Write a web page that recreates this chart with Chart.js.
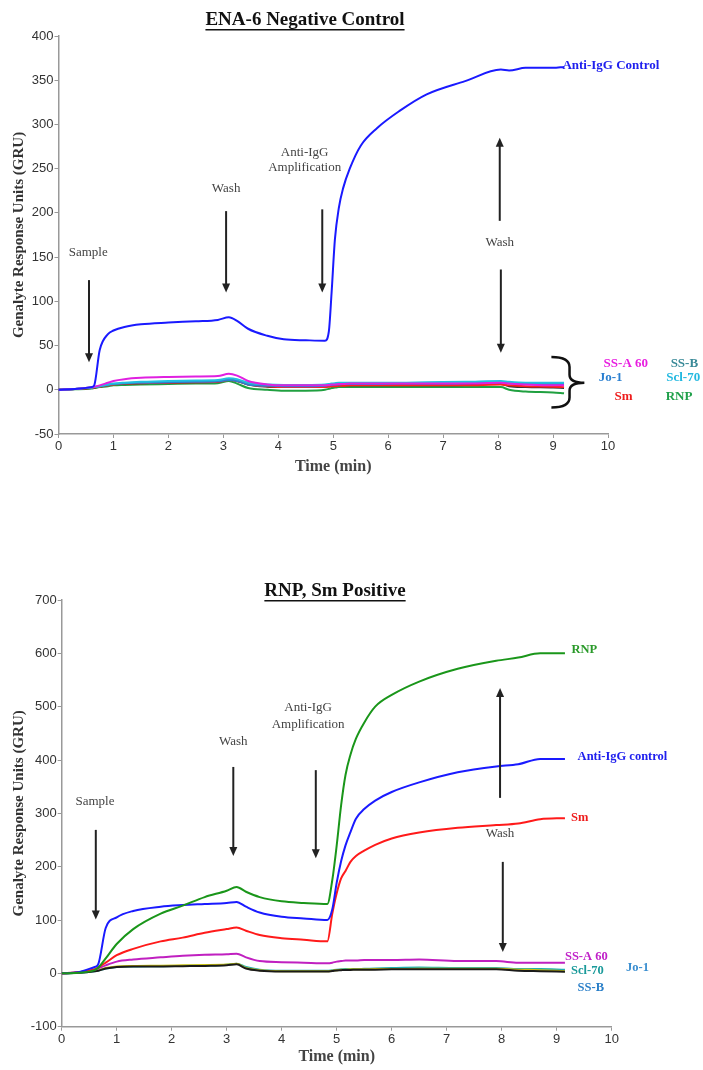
<!DOCTYPE html>
<html>
<head>
<meta charset="utf-8">
<script src="https://cdn.jsdelivr.net/npm/chart.js@4"></script>
<style>
  html, body { margin: 0; padding: 0; background: #fff; }
  body { width: 703px; height: 1070px; position: relative; overflow: hidden; }
  canvas { position: absolute; left: 0; }
  #c1 { top: 0; }
  #c2 { top: 560px; }
</style>
</head>
<body>
<canvas id="c1" width="703" height="480"></canvas>
<canvas id="c2" width="703" height="510"></canvas>
<script>
// ---- ENA-6 Negative Control (time in min, response in GRU) ----
const times1 = [0, 0.3, 0.6, 0.65, 0.75, 0.9, 1.0, 1.2, 1.5, 2.0, 2.5, 2.9, 3.1, 3.25, 3.45, 3.8, 4.1, 4.5, 4.85, 4.92, 4.97, 5.03, 5.1, 5.18, 5.3, 5.5, 5.8, 6.2, 6.7, 7.4, 8.05, 8.2, 8.5, 9.0, 9.2];
const antiIgG1 = [0, 1, 3, 5, 45, 63, 67, 71, 74, 76, 77.5, 79, 82, 78, 69, 61, 57, 56, 55.5, 66, 110, 170, 205, 228, 250, 276, 296, 315, 334, 349, 362, 361, 364, 364, 365];
const ssa1 = [0, 1, 3, 3.5, 5, 8, 10, 12, 13.5, 14.5, 15, 15.5, 18, 16, 10, 6, 5, 5, 5, 5.5, 6, 6, 6.5, 6.5, 7, 7, 7, 7, 7, 7, 8, 7, 6, 5, 5];
const scl1 = [0, 1, 2.5, 3, 4, 6, 7, 8, 9, 10, 10.5, 11, 13, 12, 8, 6, 5.5, 5.5, 6, 6.5, 7, 7.5, 8, 8, 8, 8, 8, 8, 8.5, 9, 10, 9, 8, 8, 8];
const jo1_1 = [0, 1, 2.5, 3, 4, 5.5, 6.5, 7.5, 8, 8.5, 9, 9.5, 11, 10, 6, 4.5, 4, 4, 4.5, 5, 5.5, 6, 6, 6.5, 6.5, 6.5, 6.5, 7, 7, 7.5, 8.5, 7.5, 7, 6.5, 6.5];
const sm1 = [0, 1, 2, 2.5, 3.5, 5, 6, 7, 7.5, 8, 8.5, 9, 11, 10, 6, 4, 3, 3, 3, 3.5, 4, 4, 4.5, 4.5, 5, 5, 5, 5, 5, 5, 6, 5, 4, 3.5, 3];
const rnp1 = [0, 0.5, 1.5, 2, 3, 4, 5, 5.5, 6, 6.5, 7, 7.5, 10, 7, 2, 0, -1, -1, 0, 1, 2, 2.5, 3, 3, 3, 3, 3, 3, 3, 3, 3, 0, -2, -3, -4];
const ssb1 = [0, 1, 2, 2.5, 3.5, 5.5, 6.5, 7, 7.5, 8, 8.5, 9, 11.5, 10, 6, 3.5, 3, 3, 3.5, 4, 4.5, 5, 5, 5, 5, 5, 5, 5, 5, 5.5, 6.5, 4, 3, 2.5, 2];

// ---- RNP, Sm Positive ----
const times2 = [0, 0.3, 0.6, 0.66, 0.8, 1.0, 1.3, 1.8, 2.2, 2.6, 3.0, 3.18, 3.35, 3.6, 4.0, 4.4, 4.83, 4.92, 5.0, 5.08, 5.16, 5.25, 5.35, 5.5, 5.7, 6.0, 6.5, 7.2, 7.9, 8.3, 8.7, 9.15];
const rnp2 = [0, 1, 6, 10, 28, 55, 83, 112, 127, 143, 155, 162, 153, 143, 135, 132, 130, 175, 240, 315, 372, 410, 440, 470, 500, 522, 547, 571, 586, 592, 600, 600];
const antiIgG2 = [0, 2, 12, 16, 85, 105, 117, 125, 128, 130, 132, 134, 125, 114, 106, 103, 100, 120, 170, 210, 240, 265, 290, 308, 324, 340, 358, 377, 388, 392, 402, 402];
const sm2 = [0, 2, 8, 11, 20, 34, 46, 60, 67, 76, 83, 86, 80, 72, 66, 63, 60, 112, 150, 178, 192, 209, 220, 230, 241, 253, 264, 273, 278, 281, 289, 291];
const ssa2 = [0, 2, 7, 9, 15, 22, 26, 30, 33, 35, 36, 37, 30, 23, 21, 20, 19, 20, 22, 23, 24, 24, 24, 25, 25, 25, 26, 23, 23, 20, 20, 20];
const scl2 = [0, 1, 4, 5, 9, 12, 13, 13.5, 14, 14.5, 16, 18, 12, 7, 5, 5, 5, 6, 7, 7.5, 8, 8, 8, 8.5, 9, 10, 11, 10, 10, 8, 8, 7];
const jo1_2 = [0, 1.5, 5, 6, 10, 13, 14, 14.5, 15, 15.5, 16.5, 18, 10, 6, 4, 4, 4, 5, 6, 7, 7, 7.5, 7.5, 7.5, 8, 8, 8.5, 8.5, 8.5, 7, 6, 4];
const ssb2 = [0, 1, 4, 5, 9, 12, 13, 13, 13.5, 14, 15, 17, 9, 5, 3.5, 3.5, 3.5, 4.5, 5.5, 6, 6.5, 6.5, 7, 7, 7, 7.5, 7.5, 7.5, 7.5, 5, 4, 3];

const xTicks = [0, 1, 2, 3, 4, 5, 6, 7, 8, 9, 10];

const series1 = [
  { name: "Anti-IgG Control", values: antiIgG1, color: "#1a1aff" },
  { name: "SS-A 60", values: ssa1, color: "#e020e0" },
  { name: "Scl-70", values: scl1, color: "#20c0e0" },
  { name: "Jo-1", values: jo1_1, color: "#2a7fd0" },
  { name: "Sm", values: sm1, color: "#ff2020" },
  { name: "SS-B", values: ssb1, color: "#333333" },
  { name: "RNP", values: rnp1, color: "#20a040" },
];

const series2 = [
  { name: "RNP", values: rnp2, color: "#1a961a" },
  { name: "Anti-IgG control", values: antiIgG2, color: "#1a1aff" },
  { name: "Sm", values: sm2, color: "#ff1a1a" },
  { name: "SS-A 60", values: ssa2, color: "#c020c0" },
  { name: "SS-B", values: ssb2, color: "#1a1a1a" },
  { name: "Jo-1", values: jo1_2, color: "#c8c010" },
  { name: "Scl-70", values: scl2, color: "#20b0b0" },
];

// annotations, placed in data units (min, GRU)
const notes1 = {
  title: "ENA-6 Negative Control", titleX: 305, titleY: 20, labelSize: 13,
  texts: [
    { t: "Sample", x: 0.54, y: 155 },
    { t: "Wash", x: 3.05, y: 228 },
    { t: "Anti-IgG", x: 4.48, y: 268 },
    { t: "Amplification", x: 4.48, y: 251.5 },
    { t: "Wash", x: 8.03, y: 166 },
  ],
  arrows: [
    { x: 0.555, from: 124, to: 31 },
    { x: 3.05, from: 202, to: 110 },
    { x: 4.8, from: 204, to: 110 },
    { x: 8.03, from: 191, to: 285 },
    { x: 8.05, from: 136, to: 42 },
  ],
  labels: [
    { t: "Anti-IgG Control", x: 9.17, y: 366, c: "#2020ee" },
    { t: "SS-A 60", x: 9.92, y: 29, c: "#e81ee0" },
    { t: "SS-B", x: 11.14, y: 29, c: "#3a8a98" },
    { t: "Jo-1", x: 9.83, y: 13.5, c: "#2a7fd0" },
    { t: "Scl-70", x: 11.06, y: 13.5, c: "#22b8e0" },
    { t: "Sm", x: 10.12, y: -8, c: "#ee1c1c" },
    { t: "RNP", x: 11.05, y: -8, c: "#1fa04a" },
  ],
  brace: { x0: 8.97, x1: 9.3, x2: 9.57, top: 37, mid: 8, bottom: -20 },
};

const notes2 = {
  title: "RNP, Sm Positive", titleX: 335, titleY: 31, labelSize: 12.5,
  texts: [
    { t: "Sample", x: 0.605, y: 322 },
    { t: "Wash", x: 3.12, y: 434 },
    { t: "Anti-IgG", x: 4.48, y: 499 },
    { t: "Amplification", x: 4.48, y: 467 },
    { t: "Wash", x: 7.97, y: 263 },
  ],
  arrows: [
    { x: 0.62, from: 269, to: 101 },
    { x: 3.12, from: 387, to: 220 },
    { x: 4.62, from: 381, to: 216 },
    { x: 7.97, from: 329, to: 535 },
    { x: 8.02, from: 209, to: 40 },
  ],
  labels: [
    { t: "RNP", x: 9.27, y: 606, c: "#2a9a2a" },
    { t: "Anti-IgG control", x: 9.38, y: 406, c: "#2020ee" },
    { t: "Sm", x: 9.26, y: 292, c: "#ee1c1c" },
    { t: "SS-A 60", x: 9.15, y: 31, c: "#c020c8" },
    { t: "Jo-1", x: 10.26, y: 10, c: "#3a8ed0" },
    { t: "Scl-70", x: 9.26, y: 4, c: "#1a9a9a" },
    { t: "SS-B", x: 9.38, y: -27, c: "#2a7fc8" },
  ],
};

const SERIF = "'Liberation Serif', 'DejaVu Serif', serif";

function drawArrow(ctx, x, y1, y2) {
  const dir = Math.sign(y2 - y1);
  ctx.strokeStyle = "#222";
  ctx.fillStyle = "#222";
  ctx.lineWidth = 2;
  ctx.beginPath();
  ctx.moveTo(x, y1);
  ctx.lineTo(x, y2 - dir * 7);
  ctx.stroke();
  ctx.beginPath();
  ctx.moveTo(x, y2);
  ctx.lineTo(x - 4, y2 - dir * 9);
  ctx.lineTo(x + 4, y2 - dir * 9);
  ctx.closePath();
  ctx.fill();
}

const notesPlugin = {
  id: "notes",
  afterDraw(chart, args, opts) {
    const ctx = chart.ctx;
    const X = (v) => chart.scales.x.getPixelForValue(v);
    const Y = (v) => chart.scales.y.getPixelForValue(v);
    ctx.save();

    ctx.font = "bold 19px " + SERIF;
    ctx.fillStyle = "#111";
    ctx.textAlign = "center";
    ctx.textBaseline = "middle";
    ctx.fillText(opts.title, opts.titleX, opts.titleY);
    const w = ctx.measureText(opts.title).width;
    ctx.fillRect(opts.titleX - w / 2, opts.titleY + 9, w, 1.5);

    ctx.font = "13px " + SERIF;
    ctx.fillStyle = "#444";
    opts.texts.forEach((t) => ctx.fillText(t.t, X(t.x), Y(t.y)));

    opts.arrows.forEach((a) => drawArrow(ctx, X(a.x), Y(a.from), Y(a.to)));

    ctx.font = "bold " + opts.labelSize + "px " + SERIF;
    ctx.textAlign = "left";
    opts.labels.forEach((l) => {
      ctx.fillStyle = l.c;
      ctx.fillText(l.t, X(l.x), Y(l.y));
    });

    const b = opts.brace;
    if (b) {
      const x0 = X(b.x0), x1 = X(b.x1), x2 = X(b.x2);
      const yt = Y(b.top), ym = Y(b.mid), yb = Y(b.bottom);
      ctx.strokeStyle = "#111";
      ctx.lineWidth = 2.5;
      ctx.beginPath();
      ctx.moveTo(x0, yt);
      ctx.quadraticCurveTo(x1, yt, x1, yt + 10);
      ctx.lineTo(x1, ym - 8);
      ctx.quadraticCurveTo(x1, ym, x2, ym);
      ctx.quadraticCurveTo(x1, ym, x1, ym + 8);
      ctx.lineTo(x1, yb - 10);
      ctx.quadraticCurveTo(x1, yb, x0, yb);
      ctx.stroke();
    }
    ctx.restore();
  },
};

function makeChart(id, times, series, cfg) {
  return new Chart(document.getElementById(id), {
    type: "line",
    data: {
      datasets: series.map((s) => ({
        label: s.name,
        data: times.map((t, i) => ({ x: t, y: s.values[i] })),
        borderColor: s.color,
        borderWidth: 2,
        pointRadius: 0,
        cubicInterpolationMode: "monotone",
        fill: false,
      })),
    },
    options: {
      responsive: false,
      animation: false,
      devicePixelRatio: 1,
      layout: { padding: { top: cfg.top, right: cfg.right, left: 0, bottom: 0 } },
      scales: {
        x: {
          type: "linear",
          min: 0,
          max: 10,
          afterFit: (s) => { s.height = cfg.xh; },
          afterBuildTicks: (s) => { s.ticks = xTicks.map((v) => ({ value: v })); },
          ticks: { color: "#333", padding: 1, maxRotation: 0, font: { family: "'Liberation Sans', Arial", size: 13 } },
          grid: { drawOnChartArea: false, drawTicks: true, tickLength: 4, color: "#999" },
          border: { color: "#999", width: 1.5 },
          title: {
            display: true,
            text: "Time (min)",
            color: "#444",
            padding: { top: 4, bottom: 4 },
            font: { family: SERIF, size: 16, weight: "bold" },
          },
        },
        y: {
          min: cfg.ymin,
          max: cfg.ymax,
          afterFit: (s) => { s.width = cfg.left; },
          ticks: { stepSize: cfg.step, color: "#333", padding: 1, font: { family: "'Liberation Sans', Arial", size: 13 } },
          grid: { drawOnChartArea: false, drawTicks: true, tickLength: 4, color: "#999" },
          border: { color: "#999", width: 1.5 },
          title: {
            display: true,
            text: "Genalyte Response Units (GRU)",
            color: "#333",
            padding: { top: 10, bottom: 4 },
            font: { family: SERIF, size: 15, weight: "bold" },
          },
        },
      },
      plugins: { legend: { display: false }, tooltip: { enabled: false }, notes: cfg.notes },
    },
    plugins: [notesPlugin],
  });
}

makeChart("c1", times1, series1, { top: 36, right: 95, left: 58.5, xh: 46, ymin: -50, ymax: 400, step: 50, notes: notes1 });
makeChart("c2", times2, series2, { top: 40, right: 91.3, left: 61.7, xh: 43.3, ymin: -100, ymax: 700, step: 100, notes: notes2 });
</script>
</body>
</html>
